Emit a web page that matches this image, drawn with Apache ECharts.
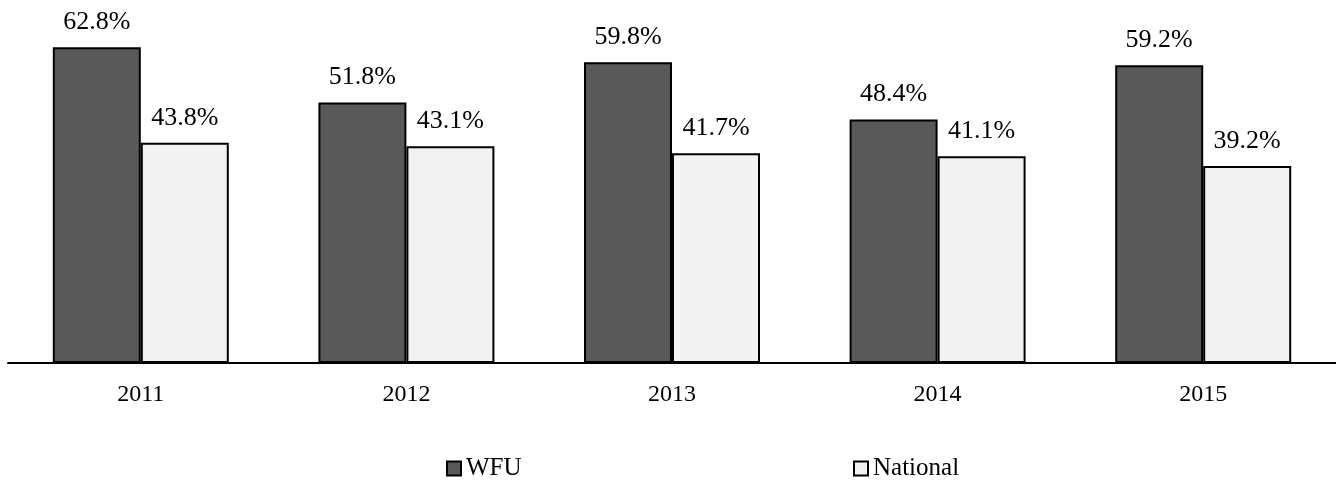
<!DOCTYPE html>
<html lang="en">
<head>
    <meta charset="UTF-8">
    <title>WFU vs National</title>
    <style>
        html, body { margin: 0; padding: 0; background: #fff; }
        #chart { width: 1336px; height: 482px; }
    </style>
</head>
<body>
    <div id="chart"></div>
    <script src="https://cdn.jsdelivr.net/npm/echarts@6/dist/echarts.min.js"></script>
    <script>
        var years = ['2011', '2012', '2013', '2014', '2015'];
        var wfu = [62.8, 51.8, 59.8, 48.4, 59.2];
        var national = [43.8, 43.1, 41.7, 41.1, 39.2];

        var font = '"Liberation Serif", "Times New Roman", serif';

        var chart = echarts.init(document.getElementById('chart'));

        function barLabel() {
            return {
                show: true,
                position: 'top',
                distance: 12,
                fontFamily: font,
                fontSize: 26,
                color: '#000',
                formatter: function (p) { return p.value.toFixed(1) + '%'; }
            };
        }

        function legendAt(name, left) {
            return {
                data: [{ name: name, icon: 'rect' }],
                left: left, top: 456,
                padding: 0,
                itemWidth: 14, itemHeight: 14, itemGap: 5,
                itemStyle: { borderColor: '#000', borderWidth: 2 },
                textStyle: { fontFamily: font, fontSize: 25, color: '#000', padding: [0, 0, 0, 0] }
            };
        }

        var option = {
            animation: false,
            grid: { left: 8, right: 0, top: 11, bottom: 119 },
            legend: [legendAt('WFU', 446), legendAt('National', 853)],
            xAxis: {
                type: 'category',
                data: years,
                axisLine: { lineStyle: { color: '#000', width: 2 } },
                axisTick: { show: false },
                axisLabel: { margin: 20, fontFamily: font, fontSize: 24, color: '#000' }
            },
            yAxis: {
                type: 'value',
                min: 0, max: 70,
                show: false,
                splitLine: { show: false }
            },
            series: [{
                name: 'WFU',
                type: 'bar',
                data: wfu,
                barWidth: 88,
                barGap: '0%',
                itemStyle: { color: '#595959', borderColor: '#000', borderWidth: 2 },
                label: barLabel()
            }, {
                name: 'National',
                type: 'bar',
                data: national,
                barWidth: 88,
                itemStyle: { color: '#f2f2f2', borderColor: '#000', borderWidth: 2 },
                label: barLabel()
            }]
        };
        chart.setOption(option);
    </script>
</body>
</html>
